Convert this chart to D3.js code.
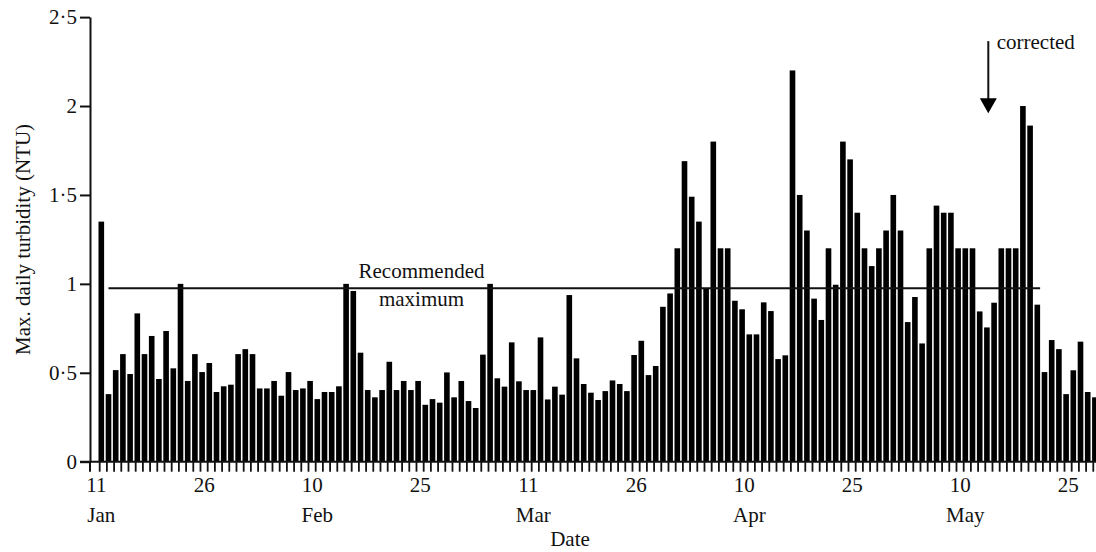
<!DOCTYPE html>
<html>
<head>
<meta charset="utf-8">
<script src="https://cdn.jsdelivr.net/npm/d3@7"></script>
<style>
  body { margin: 0; background: #fff; }
  svg text { font-family: "Liberation Serif", "Times New Roman", serif; font-size: 21px; fill: #111; }
</style>
</head>
<body>
<svg id="chart" width="1096" height="552"></svg>
<script>
// Max. daily turbidity (NTU), one bar per day starting 11 Jan (leap year).
const firstDay = new Date(2000, 0, 11);
const turbidity = [
  1.35, 0.38, 0.515, 0.605, 0.493, 0.834, 0.605, 0.707, 0.465, 0.735, 0.525, 1.0,
  0.454, 0.605, 0.504, 0.555, 0.392, 0.424, 0.433, 0.605, 0.633, 0.605,
  0.412, 0.412, 0.454, 0.371, 0.504, 0.403, 0.412, 0.454, 0.352, 0.392, 0.392,
  0.424, 1.0, 0.96, 0.613, 0.403, 0.362, 0.403, 0.562, 0.403, 0.454, 0.403,
  0.454, 0.32, 0.352, 0.332, 0.502, 0.362, 0.454, 0.341, 0.302, 0.602, 1.0,
  0.469, 0.422, 0.671, 0.452, 0.403, 0.403, 0.699, 0.35, 0.422, 0.377, 0.937, 0.581,
  0.437, 0.388, 0.347, 0.397, 0.457, 0.437, 0.397, 0.6, 0.68, 0.487, 0.538,
  0.871, 0.946, 1.2, 1.69, 1.49, 1.35, 0.975, 1.8, 1.2, 1.2, 0.905,
  0.857, 0.716, 0.716, 0.896, 0.847, 0.577, 0.598, 2.2, 1.5, 1.3, 0.917,
  0.797, 1.2, 0.995, 1.8, 1.7, 1.4, 1.2, 1.1, 1.2, 1.3, 1.5,
  1.3, 0.785, 0.926, 0.665, 1.2, 1.44, 1.4, 1.4, 1.2, 1.2, 1.2, 0.845, 0.755,
  0.894, 1.2, 1.2, 1.2, 2.0, 1.89, 0.883, 0.504, 0.684, 0.633, 0.38, 0.514,
  0.675, 0.392, 0.362
];
// Categories: the dates of the bars.
const days = d3.timeDay.range(firstDay, d3.timeDay.offset(firstDay, turbidity.length));

// Tick labels on the date axis.
const labelDates = [
  new Date(2000, 0, 11), new Date(2000, 0, 26), new Date(2000, 1, 10), new Date(2000, 1, 25),
  new Date(2000, 2, 11), new Date(2000, 2, 26), new Date(2000, 3, 10), new Date(2000, 3, 25),
  new Date(2000, 4, 10), new Date(2000, 4, 25)
];
const dayLabels = ["11", "26", "10", "25", "11", "26", "10", "25", "10", "25"];
const monthLabels = ["Jan", "", "Feb", "", "Mar", "", "Apr", "", "May", ""];

// Turbidity axis ticks.
const yTicks = [0, 0.5, 1, 1.5, 2, 2.5];
const yTickLabels = ["0", "0·5", "1", "1·5", "2", "2·5"];

// Recommended maximum and the "corrected" marker.
const recommended = 0.975;
const recFrom = new Date(2000, 0, 12);
const recTo = new Date(2000, 4, 20);
const correctedDay = new Date(2000, 4, 13);
const arrowTop = 2.365;
const arrowTip = 1.96;

const svg = d3.select("#chart");
const key = d => +d;

// Scales.
const x = d3.scaleBand()
  .domain(days.map(key))
  .range([97.7, 97.7 + days.length * 7.2])
  .paddingInner(0.22)
  .paddingOuter(0.11);

const y = d3.scaleLinear()
  .domain([0, 2.5])
  .range([461.7, 17.1]);

const bw = x.bandwidth();

// Bars.
svg.append("g")
  .selectAll("rect")
  .data(turbidity)
  .enter()
  .append("rect")
  .attr("x", (d, i) => x(key(days[i])))
  .attr("y", d => y(d))
  .attr("width", bw)
  .attr("height", d => y(0) - y(d))
  .attr("fill", "#000");

// Recommended maximum line.
svg.append("line")
  .attr("x1", x(key(recFrom)) + bw / 2)
  .attr("x2", x(key(recTo)) + bw)
  .attr("y1", y(recommended))
  .attr("y2", y(recommended))
  .attr("stroke", "#111")
  .attr("stroke-width", 2);

const recX = 421.5;
svg.append("text")
  .attr("x", recX)
  .attr("y", 277.5)
  .attr("text-anchor", "middle")
  .text("Recommended");
svg.append("text")
  .attr("x", recX)
  .attr("y", 306)
  .attr("text-anchor", "middle")
  .text("maximum");

// Y axis.
const yAxis = svg.append("g")
  .attr("transform", "translate(90,0)")
  .call(d3.axisLeft(y)
    .tickValues(yTicks)
    .tickSize(10)
    .tickSizeOuter(0)
    .tickPadding(3)
    .tickFormat((d, i) => yTickLabels[i]));
yAxis.select(".domain").attr("stroke", "#111").attr("stroke-width", 2);
yAxis.selectAll(".tick line").attr("stroke", "#111").attr("stroke-width", 2);
yAxis.selectAll(".tick text")
  .style("font-family", "'Liberation Serif', 'Times New Roman', serif")
  .style("font-size", "21px")
  .attr("fill", "#111");

// X axis baseline and the y axis running a little below it.
svg.append("line")
  .attr("x1", 80).attr("x2", 1096)
  .attr("y1", y(0)).attr("y2", y(0))
  .attr("stroke", "#111").attr("stroke-width", 2);
svg.append("line")
  .attr("x1", 90).attr("x2", 90)
  .attr("y1", y(0)).attr("y2", y(0) + 10)
  .attr("stroke", "#111").attr("stroke-width", 2);

// One tick per day.
svg.append("g")
  .selectAll("line")
  .data(days)
  .enter()
  .append("line")
  .attr("x1", d => x(key(d)) + 1.2)
  .attr("x2", d => x(key(d)) + 1.2)
  .attr("y1", y(0))
  .attr("y2", y(0) + 10)
  .attr("stroke", "#111")
  .attr("stroke-width", 1.8);

// Day and month labels.
const lab = svg.append("g")
  .selectAll("g")
  .data(labelDates)
  .enter()
  .append("g")
  .attr("transform", d => "translate(" + (x(key(d)) + bw / 2) + ",0)");
lab.append("text")
  .attr("x", -5)
  .attr("y", 491.5)
  .attr("text-anchor", "middle")
  .text((d, i) => dayLabels[i]);
lab.append("text")
  .attr("x", 0)
  .attr("y", 521.5)
  .attr("text-anchor", "middle")
  .text((d, i) => monthLabels[i]);

// Axis titles.
svg.append("text")
  .attr("x", 570)
  .attr("y", 546)
  .attr("text-anchor", "middle")
  .text("Date");
svg.append("text")
  .attr("transform", "translate(30," + (y(0) + y(2.5)) / 2 + ") rotate(-90)")
  .attr("text-anchor", "middle")
  .text("Max. daily turbidity (NTU)");

// "corrected" arrow.
const ax = x(key(correctedDay)) + bw / 2 + 1.4;
svg.append("line")
  .attr("x1", ax).attr("x2", ax)
  .attr("y1", y(arrowTop)).attr("y2", y(arrowTip) - 14)
  .attr("stroke", "#111").attr("stroke-width", 2);
svg.append("path")
  .attr("d", "M" + (ax - 8.5) + "," + (y(arrowTip) - 15) +
    "L" + (ax + 8.5) + "," + (y(arrowTip) - 15) +
    "L" + ax + "," + y(arrowTip) + "Z")
  .attr("fill", "#000");
svg.append("text")
  .attr("x", ax + 8.4)
  .attr("y", 49.3)
  .text("corrected");
</script>
</body>
</html>
